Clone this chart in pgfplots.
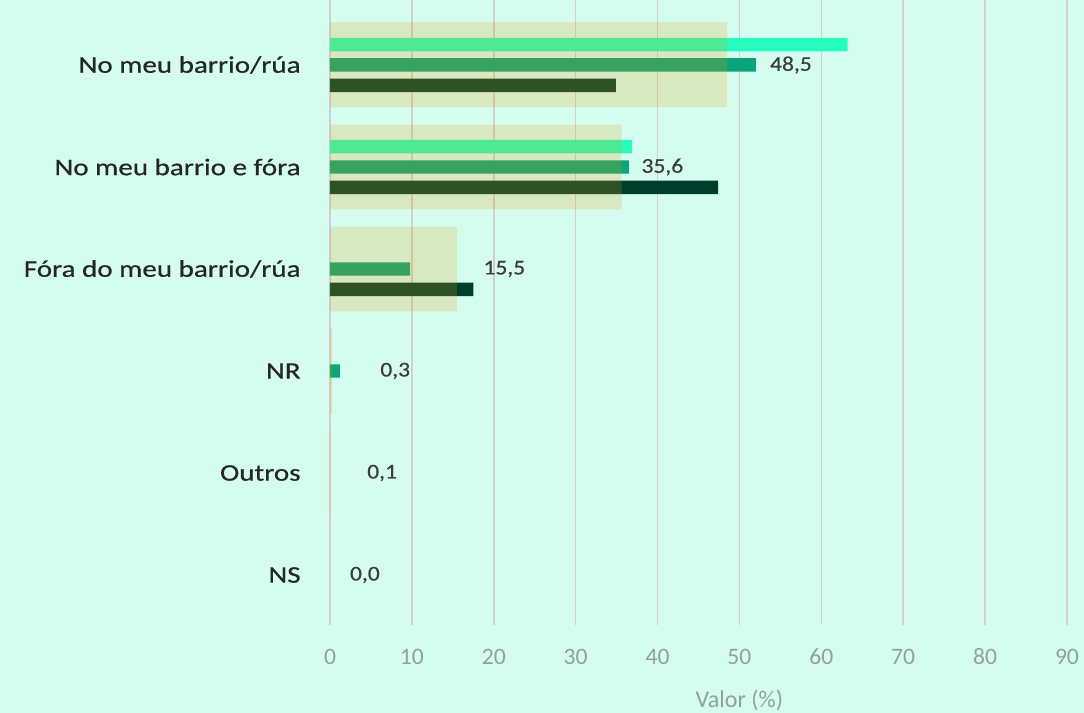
\documentclass[border=0pt]{standalone}
\usepackage{pgfplots}
\pgfplotsset{compat=1.18}
\usepackage{fontspec}
\setmainfont{Carlito}
\newfontfamily\catfont[FakeStretch=1.22,FakeBold=0.6]{Carlito}
\newfontfamily\datfont[FakeStretch=1.12,FakeBold=0.5]{Carlito}
\definecolor{bg}{RGB}{212,253,240}
\definecolor{lgreen}{RGB}{40,252,188}
\definecolor{mgreen}{RGB}{10,165,122}
\definecolor{dgreen}{RGB}{0,62,44}
\definecolor{khakio}{RGB}{231,155,16}
\definecolor{gridc}{RGB}{208,208,204}
\definecolor{tickc}{RGB}{145,162,157}
\definecolor{labc}{RGB}{38,38,38}
\definecolor{datc}{RGB}{60,60,60}
\begin{document}
\begin{tikzpicture}
\fill[bg] (-165pt,-44pt) rectangle (377pt,312.5pt);
\path[use as bounding box] (-165pt,-44pt) rectangle (377pt,312.5pt);
\begin{axis}[
  at={(0,0)}, anchor=south west,
  scale only axis, width=368.5pt, height=312.5pt,
  xmin=0, xmax=90, ymin=-0.637, ymax=5.49, y dir=reverse,
  clip=false,
  axis line style={draw=none},
  major tick length=0pt,
  xtick={0,10,...,90},
  ytick={0,1,2,3,4,5},
  yticklabels={No meu barrio/rúa, No meu barrio e fóra, Fóra do meu barrio/rúa, NR, Outros, NS},
  xmajorgrids, grid style={gridc, line width=0.8pt},
  /pgf/number format/assume math mode=true,
  xticklabel style={font=\fontsize{11.8}{14}\selectfont, text=tickc, anchor=center, yshift=-16pt},
  yticklabel style={font=\catfont\fontsize{11.9}{14}\selectfont, text=labc, anchor=east, inner sep=0pt, xshift=-14.5pt},
]
\addplot[xbar, bar width=0.132, bar shift=-0.2, fill=lgreen, draw=none] coordinates {(63.2,0) (36.9,1)};
\addplot[xbar, bar width=0.132, bar shift=0, fill=mgreen, draw=none] coordinates {(52.0,0) (36.5,1) (9.8,2) (1.2,3)};
\addplot[xbar, bar width=0.132, bar shift=0.2, fill=dgreen, draw=none] coordinates {(34.9,0) (47.4,1) (17.5,2)};
\addplot[xbar, bar width=0.833, bar shift=0, fill=khakio, fill opacity=0.21, draw=none] coordinates {(48.5,0) (35.6,1) (15.5,2) (0.3,3) (0.1,4) (0.0,5)};
\node[anchor=west, inner sep=0pt, text=datc, font=\datfont\fontsize{10.5}{12}\selectfont] at (axis cs:53.7,0) {48,5};
\node[anchor=west, inner sep=0pt, text=datc, font=\datfont\fontsize{10.5}{12}\selectfont] at (axis cs:38.0,1) {35,6};
\node[anchor=west, inner sep=0pt, text=datc, font=\datfont\fontsize{10.5}{12}\selectfont] at (axis cs:18.7,2) {15,5};
\node[anchor=west, inner sep=0pt, text=datc, font=\datfont\fontsize{10.5}{12}\selectfont] at (axis cs:6.1,3) {0,3};
\node[anchor=west, inner sep=0pt, text=datc, font=\datfont\fontsize{10.5}{12}\selectfont] at (axis cs:4.5,4) {0,1};
\node[anchor=west, inner sep=0pt, text=datc, font=\datfont\fontsize{10.5}{12}\selectfont] at (axis cs:2.4,5) {0,0};
\node[text=tickc, font=\fontsize{12}{14}\selectfont, yshift=-37.5pt] at (axis cs:50,5.49) {Valor (\%)};
\end{axis}
\end{tikzpicture}
\end{document}
